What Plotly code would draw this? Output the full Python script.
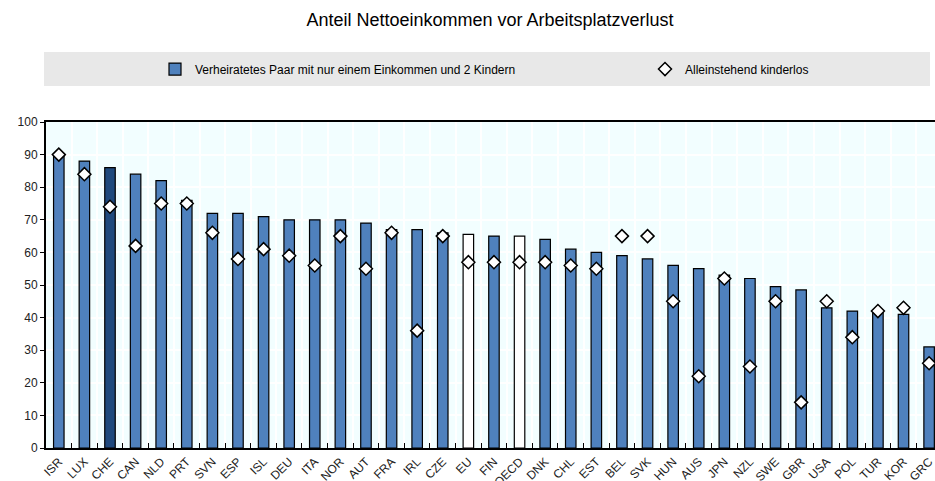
import plotly.graph_objects as go

countries = ["ISR", "LUX", "CHE", "CAN", "NLD", "PRT", "SVN", "ESP", "ISL", "DEU",
             "ITA", "NOR", "AUT", "FRA", "IRL", "CZE", "EU", "FIN", "OECD", "DNK",
             "CHL", "EST", "BEL", "SVK", "HUN", "AUS", "JPN", "NZL", "SWE", "GBR",
             "USA", "POL", "TUR", "KOR", "GRC"]
couple_one_earner_2_children = [90, 88, 86, 84, 82, 76, 72, 72, 71, 70,
                                70, 70, 69, 67, 67, 66, 65.5, 65, 65, 64,
                                61, 60, 59, 58, 56, 55, 53, 52, 49.5, 48.5,
                                43, 42, 42, 41, 31]
single_no_children = [90, 84, 74, 62, 75, 75, 66, 58, 61, 59,
                      56, 65, 55, 66, 36, 65, 57, 57, 57, 57,
                      56, 55, 65, 65, 45, 22, 52, 25, 45, 14,
                      45, 34, 42, 43, 26]
y_ticks = [0, 10, 20, 30, 40, 50, 60, 70, 80, 90, 100]

BLUE = "#4F81BD"
DARK = "#1F497D"
bar_colors = [DARK if c == "CHE" else ("#FFFFFF" if c in ("EU", "OECD") else BLUE)
              for c in countries]

fig = go.Figure()
fig.add_trace(go.Bar(
    x=countries, y=couple_one_earner_2_children,
    name="Verheiratetes Paar mit nur einem Einkommen und 2 Kindern",
    marker=dict(color=bar_colors, line=dict(color="#000000", width=1.2)),
    legend="legend",
))
fig.add_trace(go.Scatter(
    x=countries, y=single_no_children, mode="markers",
    name="Alleinstehend kinderlos",
    marker=dict(symbol="diamond", size=10, color="#FFFFFF",
                line=dict(color="#000000", width=1.5)),
    legend="legend2",
))

W, H = 935, 481
plot_left, plot_right, plot_top, plot_bottom = 46, 935, 122, 448.5
L = plot_left
R = W - plot_right
T = plot_top
B = H - plot_bottom
pw = W - L - R
ph = H - T - B


def px(xp):
    return (xp - plot_left) / pw


def py(yp):
    return (plot_bottom - yp) / ph


common_leg = dict(orientation="h", xanchor="left", y=py(69), yanchor="middle",
                  bgcolor="rgba(0,0,0,0)", font=dict(size=12, color="#000000"),
                  itemwidth=30)

fig.update_layout(
    width=W, height=H,
    margin=dict(l=L, r=R, t=T, b=B, autoexpand=False),
    paper_bgcolor="#FFFFFF",
    plot_bgcolor="#F2FEFF",
    font=dict(family="Liberation Sans, Arial, sans-serif", size=12, color="#000000"),
    title=dict(text="Anteil Nettoeinkommen vor Arbeitsplatzverlust",
               x=px(490), xref="paper", xanchor="center", y=1 - 20 / H,
               yanchor="middle", font=dict(size=18, color="#000000")),
    bargap=0.59,
    showlegend=True,
    legend=dict(x=px(155), **common_leg),
    legend2=dict(x=px(645), **common_leg),
    shapes=[dict(type="rect", xref="paper", yref="paper",
                 x0=px(44), x1=px(930), y0=py(86), y1=py(52),
                 fillcolor="#E8E8E8", line=dict(width=0), layer="below")],
)
fig.update_xaxes(
    type="category", range=[-0.5, 34.23],
    tickson="boundaries", ticks="inside", ticklen=5,
    tickcolor="#000000", showgrid=True, gridcolor="#FFFFFF", gridwidth=1.5,
    showline=True, linecolor="#000000", linewidth=2, mirror=True,
    tickangle=-45, tickfont=dict(size=12, color="#222222"), automargin=False,
)
fig.update_yaxes(
    range=[0, 100], tickvals=y_ticks, ticks="outside", ticklen=4,
    tickcolor="#000000", showgrid=True, gridcolor="#FFFFFF", gridwidth=1.5,
    showline=True, linecolor="#000000", linewidth=2,
    tickfont=dict(size=12, color="#222222"), zeroline=False, automargin=False,
)

fig.write_html(
    "out.html",
    config={"displayModeBar": False},
    post_script="document.body.style.margin='0';"
                "document.documentElement.style.overflow='hidden';"
                "document.body.style.overflow='hidden';",
)
